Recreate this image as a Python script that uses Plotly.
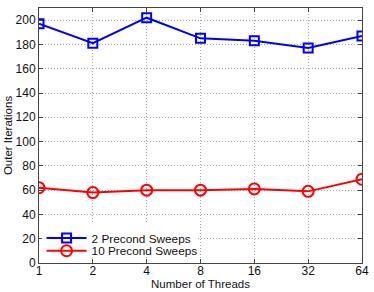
import plotly.graph_objects as go

threads = [1, 2, 4, 8, 16, 32, 64]
tick_labels = ["1", "2", "4", "8", "16", "32", "64"]
sweeps2 = [197, 181, 202, 185, 183, 177, 187]
sweeps10 = [62, 58, 60, 60, 61, 59, 69]
y_ticks = list(range(0, 201, 20))

font = "Liberation Sans, Arial, sans-serif"
fs = 11.5
txt = "#111111"

fig = go.Figure()
fig.add_trace(go.Scatter(
    x=threads, y=sweeps2, name="2 Precond Sweeps", mode="lines+markers",
    line=dict(color="#0000ff", width=2), legend="legend",
    marker=dict(symbol="square-open", size=9, color="#0000ff", line=dict(width=2, color="#0000ff")),
))
fig.add_trace(go.Scatter(
    x=threads, y=sweeps10, name="10 Precond Sweeps", mode="lines+markers",
    line=dict(color="#ff0000", width=2), legend="legend2",
    marker=dict(symbol="circle-open", size=11, color="#ff0000", line=dict(width=2, color="#ff0000")),
))

axis_common = dict(
    showgrid=True, gridcolor="#a8a8a8", griddash="1px,2px", gridwidth=1,
    showline=True, linecolor="#444444", linewidth=1, mirror="ticks",
    ticks="inside", ticklen=4, tickcolor="#444444",
    tickfont=dict(family=font, size=12, color=txt),
    zeroline=False, automargin=False,
)

leg_common = dict(
    xanchor="left", yanchor="middle", borderwidth=0,
    font=dict(family=font, size=11.8, color=txt),
    itemwidth=40,
)

fig.update_layout(
    width=374, height=292,
    margin=dict(l=39, r=12, t=8, b=29),
    paper_bgcolor="white", plot_bgcolor="white",
    font=dict(family=font, size=fs, color=txt),
    showlegend=True,
    legend=dict(x=0.008, y=0.098, bgcolor="white", **leg_common),
    legend2=dict(x=0.008, y=0.048, bgcolor="rgba(255,255,255,0)", **leg_common),
    xaxis=dict(
        type="log", range=[0, 1.80618], tickvals=threads, ticktext=tick_labels,
        ticklabelstandoff=-3,
        title=dict(text="Number of Threads", standoff=0, font=dict(family=font, size=fs, color=txt)),
        **axis_common,
    ),
    yaxis=dict(
        range=[0, 210], tickvals=y_ticks,
        title=dict(text="Outer Iterations", standoff=0, font=dict(family=font, size=fs, color=txt)),
        **axis_common,
    ),
)

fig.write_html(
    "out.html",
    config={"displayModeBar": False},
    post_script="document.body.style.margin='0';",
)
